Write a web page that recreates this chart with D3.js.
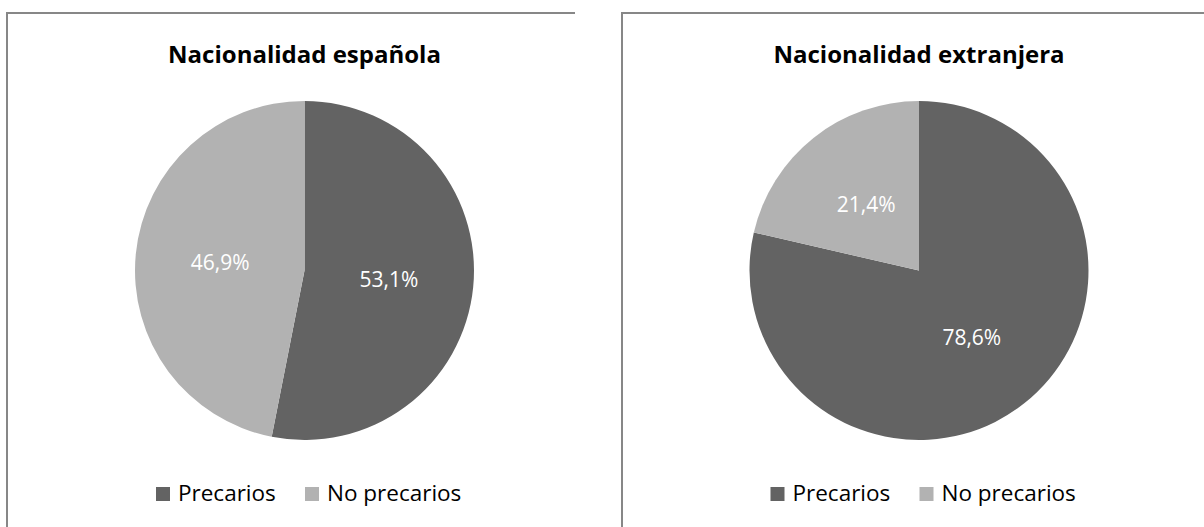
<!DOCTYPE html>
<html lang="es">
<head>
  <meta charset="UTF-8">
  <title>Nacionalidad - precarios</title>
  <script src="https://d3js.org/d3.v7.min.js"></script>
  <style>
    body {
      margin: 0;
      background: #fff;
      font-family: "Open Sans", "Noto Sans", sans-serif;
    }
    .title {
      font-weight: bold;
      font-size: 24px;
      fill: #000;
      text-anchor: middle;
    }
    .slice-label {
      font-size: 21px;
      fill: #fff;
      text-anchor: middle;
      dominant-baseline: central;
    }
    .legend-text {
      font-size: 22.5px;
      fill: #000;
    }
    .frame {
      fill: none;
      stroke: #878787;
      stroke-width: 2;
    }
  </style>
</head>
<body>
  <svg id="chart" width="1204" height="527"></svg>

  <script>
    const categories = ["Precarios", "No precarios"];
    const titles = ["Nacionalidad española", "Nacionalidad extranjera"];
    const espanola = [53.1, 46.9];
    const extranjera = [78.6, 21.4];
    const series = [espanola, extranjera];

    const colors = d3.scaleOrdinal()
      .domain(categories)
      .range(["#636363", "#b2b2b2"]);

    const fmt = v => d3.format(".1f")(v).replace(".", ",") + "%";

    const svg = d3.select("#chart");

    // panel frames (the picture is cropped, so only top and left edges show)
    const panels = [
      { left: 7, right: 575, cx: 304.5 },
      { left: 622, right: 1210, cx: 919 }
    ];

    const radius = 169.5;
    const cy = 270.5;

    const pie = d3.pie().sort(null).value(d => d);
    const arc = d3.arc().innerRadius(0).outerRadius(radius);
    const labelArc = d3.arc().innerRadius(radius * 0.5).outerRadius(radius * 0.5);

    panels.forEach((p, i) => {
      svg.append("path")
        .attr("class", "frame")
        .attr("d", `M${p.left},530V13H${p.right}`);

      const g = svg.append("g");

      g.append("text")
        .attr("class", "title")
        .attr("x", p.cx)
        .attr("y", 63)
        .text(titles[i]);

      const pieG = g.append("g")
        .attr("transform", `translate(${p.cx},${cy})`);

      const arcs = pie(series[i]);

      pieG.selectAll("path")
        .data(arcs)
        .enter().append("path")
        .attr("d", arc)
        .attr("fill", (d, j) => colors(categories[j]));

      pieG.selectAll("text")
        .data(arcs)
        .enter().append("text")
        .attr("class", "slice-label")
        .attr("transform", d => {
          const c = labelArc.centroid(d);
          return `translate(${c[0]},${c[1]})`;
        })
        .text(d => fmt(d.data));

      // legend
      const legend = g.append("g")
        .attr("transform", `translate(${p.cx - 148.5},487)`);

      const offsets = [0, 149];
      categories.forEach((c, j) => {
        const item = legend.append("g")
          .attr("transform", `translate(${offsets[j]},0)`);
        item.append("rect")
          .attr("width", 14)
          .attr("height", 14)
          .attr("fill", colors(c));
        item.append("text")
          .attr("class", "legend-text")
          .attr("x", 22)
          .attr("y", 14)
          .text(c);
      });
    });
  </script>
</body>
</html>
